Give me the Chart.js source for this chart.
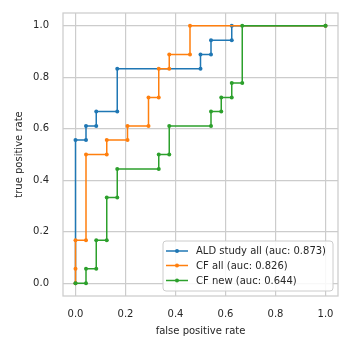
<!DOCTYPE html>
<html>
<head>
<meta charset="utf-8">
<script src="https://cdn.jsdelivr.net/npm/chart.js@4/dist/chart.umd.min.js"></script>
<style>
  html, body { margin: 0; padding: 0; background: #ffffff; }
  canvas { display: block; }
</style>
</head>
<body>
<canvas id="c" width="352" height="352"></canvas>
<script>
// ---- data ----
const seriesNames = ["ALD study all (auc: 0.873)", "CF all (auc: 0.826)", "CF new (auc: 0.644)"];
const seriesColors = ["#1f77b4", "#ff7f0e", "#2ca02c"];

const aldFpr = [0, 0, 0.042, 0.042, 0.083, 0.083, 0.167, 0.167, 0.5, 0.5, 0.542, 0.542, 0.625, 0.625, 1];
const aldTpr = [0, 0.556, 0.556, 0.611, 0.611, 0.667, 0.667, 0.833, 0.833, 0.889, 0.889, 0.944, 0.944, 1, 1];

const cfAllFpr = [0, 0, 0, 0.042, 0.042, 0.125, 0.125, 0.208, 0.208, 0.292, 0.292, 0.333, 0.333, 0.375, 0.375, 0.458, 0.458, 1];
const cfAllTpr = [0, 0.056, 0.167, 0.167, 0.5, 0.5, 0.556, 0.556, 0.611, 0.611, 0.722, 0.722, 0.833, 0.833, 0.889, 0.889, 1, 1];

const cfNewFpr = [0, 0.042, 0.042, 0.083, 0.083, 0.125, 0.125, 0.167, 0.167, 0.333, 0.333, 0.375, 0.375, 0.542, 0.542, 0.583, 0.583, 0.625, 0.625, 0.667, 0.667, 1];
const cfNewTpr = [0, 0, 0.056, 0.056, 0.167, 0.167, 0.333, 0.333, 0.444, 0.444, 0.5, 0.5, 0.611, 0.611, 0.667, 0.667, 0.722, 0.722, 0.778, 0.778, 1, 1];

const tickValues = [0, 0.2, 0.4, 0.6, 0.8, 1.0];
const xTitle = "false positive rate";
const yTitle = "true positive rate";

// ---- chart ----
const FONT = "'DejaVu Sans', 'Liberation Sans', sans-serif";
const TEXT = "#262626";
const GRID = "#cccccc";

Chart.defaults.font.family = FONT;
Chart.defaults.font.size = 10;
Chart.defaults.color = TEXT;

function pts(xs, ys) { return xs.map((x, i) => ({ x: x, y: ys[i] })); }

const allSeries = [pts(aldFpr, aldTpr), pts(cfAllFpr, cfAllTpr), pts(cfNewFpr, cfNewTpr)];

const datasets = allSeries.map((d, i) => ({
  label: seriesNames[i],
  data: d,
  showLine: true,
  borderColor: seriesColors[i],
  backgroundColor: seriesColors[i],
  borderWidth: 1.5,
  pointRadius: 2,
  pointBorderWidth: 0,
  pointHoverRadius: 2,
  tension: 0,
  order: allSeries.length - 1 - i
}));

const framePlugin = {
  id: 'frame',
  beforeDatasetsDraw(chart) {
    const { ctx, chartArea: a } = chart;
    ctx.save();
    ctx.strokeStyle = GRID;
    ctx.lineWidth = 1.25;
    ctx.strokeRect(a.left, a.top, a.right - a.left, a.bottom - a.top);
    ctx.restore();
  }
};

const legendPlugin = {
  id: 'boxLegend',
  afterDraw(chart) {
    const { ctx } = chart;
    const bx = 163, by = 241, bw = 170, bh = 50, r = 3;
    ctx.save();
    ctx.beginPath();
    ctx.moveTo(bx + r, by);
    ctx.lineTo(bx + bw - r, by);
    ctx.arcTo(bx + bw, by, bx + bw, by + r, r);
    ctx.lineTo(bx + bw, by + bh - r);
    ctx.arcTo(bx + bw, by + bh, bx + bw - r, by + bh, r);
    ctx.lineTo(bx + r, by + bh);
    ctx.arcTo(bx, by + bh, bx, by + bh - r, r);
    ctx.lineTo(bx, by + r);
    ctx.arcTo(bx, by, bx + r, by, r);
    ctx.closePath();
    ctx.fillStyle = "rgba(255,255,255,0.85)";
    ctx.fill();
    ctx.strokeStyle = GRID;
    ctx.lineWidth = 1;
    ctx.stroke();

    const rows = [251, 265.5, 280.5];
    ctx.font = "10px " + FONT;
    ctx.textBaseline = "middle";
    ctx.textAlign = "left";
    seriesNames.forEach((name, i) => {
      const y = rows[i];
      ctx.strokeStyle = seriesColors[i];
      ctx.lineWidth = 1.5;
      ctx.beginPath();
      ctx.moveTo(166, y);
      ctx.lineTo(188, y);
      ctx.stroke();
      ctx.fillStyle = seriesColors[i];
      ctx.beginPath();
      ctx.arc(177, y, 2, 0, Math.PI * 2);
      ctx.fill();
      ctx.fillStyle = TEXT;
      ctx.fillText(name, 196, y + 0.5);
    });
    ctx.restore();
  }
};

function fixTicks(scale) {
  scale.ticks = tickValues.map(v => ({ value: v }));
}
function zeroPad(s) {
  s.paddingTop = 0; s.paddingBottom = 0; s.paddingLeft = 0; s.paddingRight = 0;
}

new Chart(document.getElementById('c'), {
  type: 'scatter',
  data: { datasets: datasets },
  options: {
    responsive: false,
    devicePixelRatio: 1,
    animation: false,
    events: [],
    layout: { padding: { top: 13, right: 14, bottom: 0, left: 0 } },
    plugins: {
      legend: { display: false },
      tooltip: { enabled: false }
    },
    scales: {
      x: {
        type: 'linear',
        min: -0.05,
        max: 1.05,
        afterBuildTicks: fixTicks,
        afterFit(s) { s.height = 56; zeroPad(s); },
        ticks: { callback: v => Number(v).toFixed(1), padding: 12, maxRotation: 0, autoSkip: false, color: TEXT },
        grid: { color: GRID, lineWidth: 1.2, drawTicks: false },
        border: { display: false },
        title: { display: true, text: xTitle, color: TEXT, font: { size: 10 }, padding: { top: 0, bottom: 15 } }
      },
      y: {
        type: 'linear',
        min: -0.05,
        max: 1.05,
        afterBuildTicks: fixTicks,
        afterFit(s) { s.width = 63; zeroPad(s); },
        ticks: { callback: v => Number(v).toFixed(1), padding: 14, autoSkip: false, color: TEXT },
        grid: { color: GRID, lineWidth: 1.2, drawTicks: false },
        border: { display: false },
        title: { display: true, text: yTitle, color: TEXT, font: { size: 10 }, padding: { top: 13, bottom: 0 } }
      }
    }
  },
  plugins: [framePlugin, legendPlugin]
});
</script>
</body>
</html>
